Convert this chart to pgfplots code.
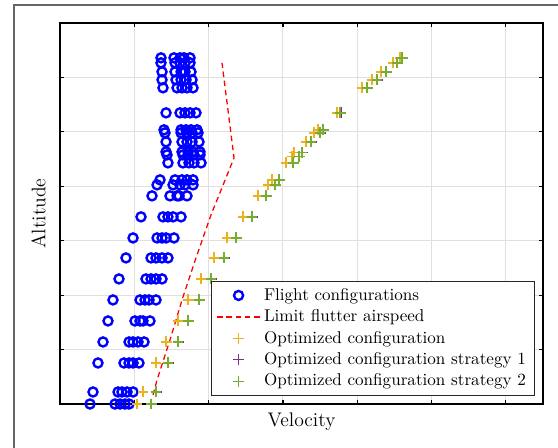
\documentclass[border=0pt]{standalone}
\usepackage{pgfplots}
\pgfplotsset{compat=1.18}
\definecolor{myyellow}{rgb}{0.929,0.694,0.125}
\definecolor{mypurple}{rgb}{0.494,0.184,0.556}
\definecolor{mygreen}{rgb}{0.466,0.674,0.188}
\definecolor{gridgray}{rgb}{0.88,0.88,0.88}
\begin{document}
\begin{tikzpicture}
\useasboundingbox (0,0) rectangle (326.43pt,262.08pt);
\clip (0,0) rectangle (326.43pt,262.08pt);
\draw[line width=1pt, color=black!60] (8.19pt,-5pt) rectangle (335pt,259.16pt);
\begin{axis}[
  at={(35.1pt,25.74pt)}, anchor=south west,
  scale only axis, width=282.56pt, height=222.89pt,
  xmin=0, xmax=6.5, ymin=0, ymax=7,
  xtick={0,1,2,3,4,5,6}, ytick={0,1,2,3,4,5,6,7},
  xticklabels={}, yticklabels={},
  tick align=inside, tick pos=both,
  major tick length=2.5pt,
  every tick/.style={black, line width=0.7pt},
  axis line style={black, line width=0.8pt},
  grid=major, major grid style={gridgray, line width=0.6pt},
  clip=false,
  xlabel={Velocity}, ylabel={Altitude},
  xlabel style={at={(axis description cs:0.5,-0.0063)}, anchor=north, font=\fontsize{11.5}{14}\selectfont},
  ylabel style={at={(axis description cs:-0.0173,0.5)}, anchor=south, rotate=0, font=\fontsize{11.5}{14}\selectfont},
  legend cell align=left,
  legend style={at={(axis description cs:0.9834,0.021)}, anchor=south east, draw=black!85, line width=0.7pt, fill=white, font=\fontsize{10}{12}\selectfont},
  legend image code/.code={\draw[mark repeat=2, mark phase=2, #1] plot coordinates {(0pt,0pt) (12.5pt,0pt) (25pt,0pt)};},
]
\addplot[only marks, mark=o, mark size=2.65pt, color=blue, line width=1.4pt] coordinates {
(0.404,0) (0.740,0) (0.808,0) (0.875,0) (0.929,0)
(0.444,0.221) (0.781,0.221) (0.834,0.221) (0.902,0.221) (0.983,0.221)
(0.511,0.754) (0.861,0.754) (0.929,0.754) (0.983,0.754) (1.063,0.754)
(0.579,1.140) (0.929,1.140) (0.983,1.140) (1.050,1.140) (1.131,1.140)
(0.646,1.526) (1.009,1.526) (1.077,1.526) (1.117,1.526) (1.211,1.526)
(0.713,1.912) (1.077,1.912) (1.144,1.912) (1.198,1.912) (1.292,1.912)
(0.794,2.298) (1.157,2.298) (1.225,2.298) (1.292,2.298) (1.373,2.298)
(0.888,2.684) (1.225,2.684) (1.292,2.684) (1.373,2.684) (1.453,2.684)
(0.983,3.051) (1.306,3.051) (1.373,3.051) (1.427,3.051) (1.534,3.051)
(1.090,3.438) (1.386,3.438) (1.453,3.438) (1.521,3.438) (1.629,3.438)
(1.238,3.824) (1.480,3.824) (1.575,3.824) (1.602,3.824) (1.709,3.824)
(1.306,4.026) (1.521,4.026) (1.615,4.026) (1.682,4.026) (1.790,4.026)
(1.346,4.118) (1.548,4.118) (1.642,4.118) (1.709,4.118) (1.790,4.118)
(1.453,4.430) (1.655,4.430) (1.736,4.430) (1.803,4.430) (1.898,4.430)
(1.440,4.577) (1.655,4.577) (1.723,4.577) (1.803,4.577) (1.884,4.577)
(1.427,4.632) (1.642,4.632) (1.723,4.632) (1.790,4.632) (1.884,4.632)
(1.427,4.816) (1.642,4.816) (1.709,4.816) (1.777,4.816) (1.871,4.816)
(1.413,4.982) (1.629,4.982) (1.709,4.982) (1.777,4.982) (1.857,4.982)
(1.400,5.037) (1.629,5.037) (1.696,5.037) (1.763,5.037) (1.844,5.037)
(1.427,5.349) (1.615,5.349) (1.682,5.349) (1.750,5.349) (1.830,5.349)
(1.386,5.809) (1.575,5.809) (1.642,5.809) (1.709,5.809) (1.790,5.809)
(1.373,5.956) (1.561,5.956) (1.629,5.956) (1.696,5.956) (1.777,5.956)
(1.373,6.103) (1.548,6.103) (1.629,6.103) (1.682,6.103) (1.763,6.103)
(1.359,6.268) (1.548,6.268) (1.615,6.268) (1.682,6.268) (1.750,6.268)
(1.359,6.360) (1.534,6.360) (1.615,6.360) (1.669,6.360) (1.750,6.360)
};
\addlegendentry{Flight configurations}
\addplot[red, dash pattern=on 3.2pt off 2.2pt, line width=0.75pt, no marks] coordinates {
(1.252,0.165) (1.306,0.441) (1.480,1.176) (1.655,1.967) (1.830,2.684) (2.032,3.474) (2.342,4.522) (2.180,6.268)
};
\addlegendentry{Limit flutter airspeed}
\addplot[only marks, mark=+, mark size=3.2pt, color=myyellow, line width=0.8pt] coordinates {
(1.036,0) (1.117,0.221) (1.292,0.754) (1.427,1.140) (1.588,1.526) (1.723,1.912)
(1.898,2.298) (2.073,2.684) (2.248,3.051) (2.463,3.438) (2.665,3.824) (2.799,4.026)
(2.853,4.118) (3.042,4.430) (3.122,4.550) (3.149,4.620) (3.311,4.816) (3.419,4.982)
(3.472,5.037) (3.728,5.349) (4.065,5.809) (4.199,5.956) (4.320,6.103) (4.482,6.268) (4.576,6.360)
};
\addlegendentry{Optimized configuration}
\addplot[only marks, mark=+, mark size=3.2pt, color=mypurple, line width=0.8pt] coordinates {
(1.235,0) (1.302,0.221) (1.463,0.754) (1.598,1.140) (1.733,1.526) (1.881,1.912)
(2.042,2.298) (2.217,2.684) (2.379,3.051) (2.594,3.438) (2.783,3.824) (2.904,4.026)
(2.958,4.118) (3.146,4.430) (3.227,4.550) (3.267,4.620) (3.388,4.816) (3.509,4.982)
(3.550,5.037) (3.779,5.349) (4.142,5.809) (4.276,5.956) (4.398,6.103) (4.546,6.268) (4.613,6.360)
};
\addlegendentry{Optimized configuration strategy 1}
\addplot[only marks, mark=+, mark size=3.2pt, color=mygreen, line width=0.8pt] coordinates {
(1.225,0) (1.292,0.221) (1.453,0.754) (1.588,1.140) (1.723,1.526) (1.871,1.912)
(2.032,2.298) (2.207,2.684) (2.369,3.051) (2.584,3.438) (2.773,3.824) (2.894,4.026)
(2.948,4.118) (3.136,4.430) (3.217,4.550) (3.257,4.620) (3.378,4.816) (3.499,4.982)
(3.540,5.037) (3.769,5.349) (4.132,5.809) (4.266,5.956) (4.388,6.103) (4.536,6.268) (4.603,6.360)
};
\addlegendentry{Optimized configuration strategy 2}
\end{axis}
\end{tikzpicture}
\end{document}
